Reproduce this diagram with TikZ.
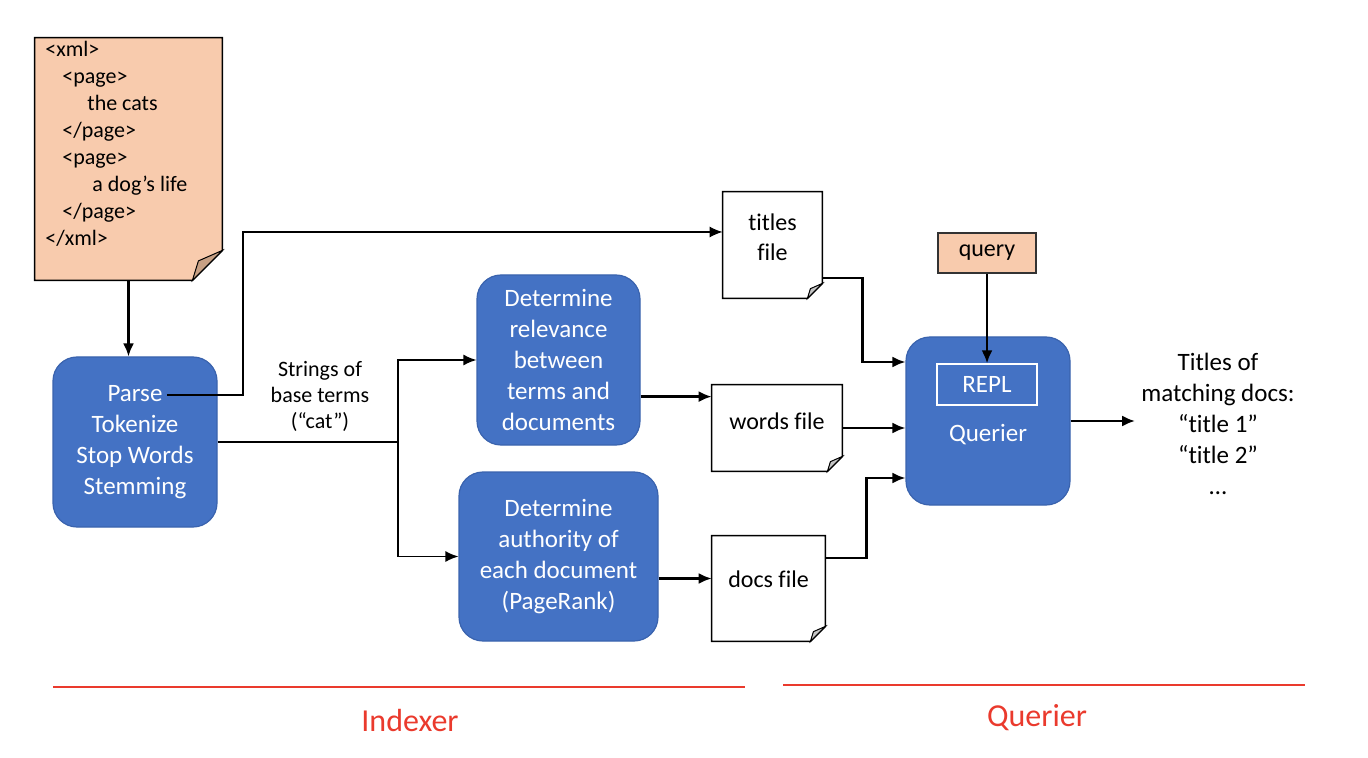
\documentclass[tikz,border=0pt]{standalone}
\usepackage{fontspec}
\setmainfont{Carlito}[Ligatures=NoCommon]
\usepackage{tikz}
\usetikzlibrary{calc,arrows,arrows.meta,positioning}
\tikzset{>={Latex[length=6.5pt,width=5.5pt]}}

\definecolor{boxblue}{HTML}{4472C4}
\definecolor{boxedge}{HTML}{3A63AE}
\definecolor{peach}{HTML}{F8CBAD}
\definecolor{peachdark}{HTML}{C7A084}
\definecolor{flapgray}{HTML}{C4C4C4}
\definecolor{markred}{HTML}{EA3A2D}

\newcommand{\boxfont}{\fontsize{12.5}{15.5}\selectfont}
\newcommand{\filefont}{\fontsize{12}{15}\selectfont}
\newcommand{\lift}[1]{\rule[-#1]{0pt}{#1}}

% outline of a sheet with a folded lower right corner
\newcommand{\foldfile}[4]{%
  \draw[line width=0.7pt,fill=#3] (#1.north west) -- (#1.north east) -- ($(#1.south east)+(0,-#2)$)
    -- ($(#1.south east)+(-#2,0)$) -- (#1.south west) -- cycle;
  \draw[line width=0.5pt,fill=#4] ($(#1.south east)+(0,-#2)$) -- ($(#1.south east)+(-0.8*#2,-0.65*#2)$)
    -- ($(#1.south east)+(-#2,0)$) -- cycle;
}

\tikzset{
  stage/.style={rectangle,rounded corners=12pt,fill=boxblue,draw=boxedge,line width=0.6pt,
    text=white,align=center,font=\boxfont,inner sep=0pt},
  sheet/.style={rectangle,inner sep=0pt,align=center,font=\filefont},
  tagbox/.style={rectangle,fill=peach,draw=black!80,line width=0.7pt,inner sep=0pt,font=\filefont},
  flow/.style={->,line width=1.1pt},
  thinflow/.style={line width=0.7pt},
  part/.style={text=markred,font=\fontsize{16}{19}\selectfont}
}

\begin{document}
\begin{tikzpicture}[x=0.5pt,y=-0.5pt]
\useasboundingbox (0,0) rectangle (1368,758);

% input document
\node[sheet,minimum width=93.5pt,minimum height=121pt] (xml) at (128.5,159) {};
\foldfile{xml}{30}{peach}{peachdark}
\node[anchor=north west,align=left,inner sep=0pt,font=\fontsize{11}{13.5}\selectfont] (xmltext) at (45,41)
  {<xml>\\
   \hspace*{8.5pt}<page>\\
   \hspace*{21pt}the cats\\
   \hspace*{8.5pt}</page>\\
   \hspace*{8.5pt}<page>\\
   \hspace*{23.5pt}a dog’s life\\
   \hspace*{8.5pt}</page>\\
   </xml>};

% indexer stages
\node[stage,minimum width=82pt,minimum height=85pt] (parse) at (135,442) {Parse\\Tokenize\\Stop Words\\Stemming};
\node[stage,minimum width=81.5pt,minimum height=85pt] (rel) at (558.5,360)
  {Determine\\relevance\\between\\terms and\\documents};
\node[stage,minimum width=99.5pt,minimum height=84.5pt] (auth) at (558.5,556.5)
  {Determine\\authority of\\each document\\(PageRank)};
\node[align=center,inner sep=0pt,font=\fontsize{11}{13}\selectfont] (terms) at (320,396)
  {Strings of\\base terms\\(“cat”)};

% index files
\node[sheet,minimum width=49.5pt,minimum height=53pt] (titles) at (772.5,245) {titles\\file\lift{8pt}};
\foldfile{titles}{15}{none}{flapgray}
\node[sheet,minimum width=65pt,minimum height=43pt] (words) at (777,428) {words file\lift{7pt}};
\foldfile{words}{15}{none}{flapgray}
\node[sheet,minimum width=56.5pt,minimum height=52.5pt] (docs) at (768.5,588.5) {docs file\lift{9.5pt}};
\foldfile{docs}{15}{none}{flapgray}

% querier
\node[stage,minimum width=82pt,minimum height=84pt] (querier) at (988,421) {};
\node[text=white,font=\boxfont,inner sep=0pt] (qname) at (988,435) {Querier};
\node[rectangle,draw=white,line width=0.7pt,minimum width=50pt,minimum height=20.5pt,inner sep=0pt,
  text=white,font=\boxfont] (repl) at (987,384.5) {REPL};
\node[tagbox,minimum width=49pt,minimum height=20pt] (query) at (987,253) {query};
\node[align=center,inner sep=3pt,font=\boxfont] (out) at (1218,424)
  {Titles of\\matching docs:\\“title 1”\\“title 2”\\…};

% connectors
\draw[flow] (xml.south) -- (xml.south |- parse.north);
\coordinate (pout) at (167,395);
\draw[thinflow,->] (pout) -- ++(76,0) |- ($(titles.west)+(0,-13)$);
\coordinate (split) at (398,442);
\draw[thinflow] (parse.east) -- (split);
\draw[thinflow,->] (split) |- (rel.west);
\draw[thinflow,->] (split) |- (auth.west);
\coordinate (wordsin) at ($(words.north west)+(0,12)$);
\draw[flow] (rel.east |- wordsin) -- (wordsin);
\coordinate (docsin) at ($(docs.west)+(0,-10)$);
\draw[flow] (auth.east |- docsin) -- (docsin);
\draw[flow] ($(titles.south east)+(0,-20)$) -- ++(40,0) |- ($(querier.west)+(0,-59)$);
\draw[flow] (words.east) -- (words.east -| querier.west);
\draw[flow] ($(docs.north east)+(0,22)$) -- ++(41,0) |- ($(querier.west)+(0,57)$);
\draw[flow] (query.south) -- (repl.north);
\draw[flow] (querier.east) -- (out.west |- querier.east);

% parts
\draw[markred,line width=1.4pt] (53,687) -- (745,687);
\draw[markred,line width=1.4pt] (783,685) -- (1305,685);
\node[part] (indexer) at (410,720) {Indexer};
\node[part] (querierpart) at (1037,718) {Querier};
\end{tikzpicture}
\end{document}
